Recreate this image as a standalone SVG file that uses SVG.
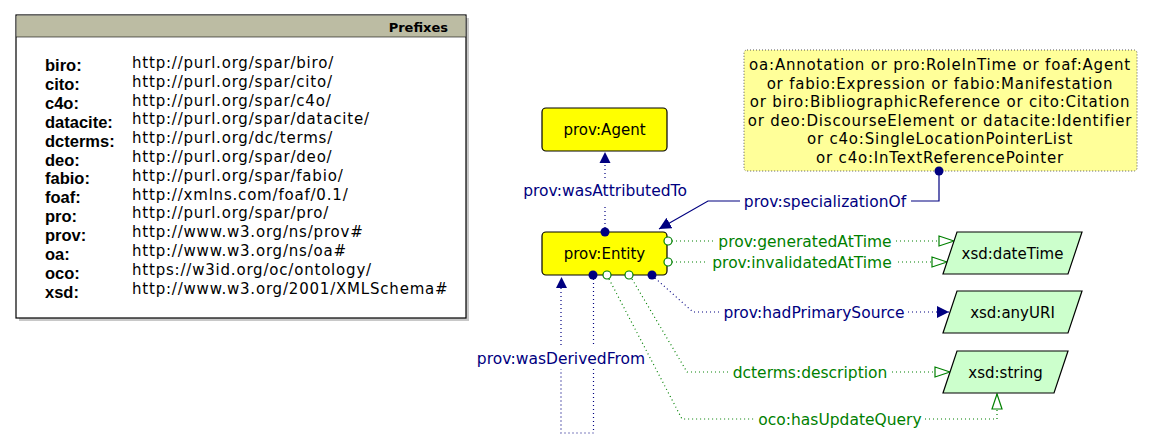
<svg xmlns="http://www.w3.org/2000/svg" width="1151" height="448" viewBox="0 0 1151 448">
<style>
  text { font-family: "DejaVu Sans", "Liberation Sans", sans-serif; }
  .pfx { font-family: "Liberation Sans", "DejaVu Sans", sans-serif; font-size: 16.5px; font-weight: bold; fill: #000; }
  .url { font-size: 15px; letter-spacing: 0.8px; fill: #000; }
  .node { fill: #ffff00; stroke: #000; stroke-width: 1.2; }
  .ntext { font-size: 15px; fill: #000; text-anchor: middle; }
  .dt { fill: #ccffcc; stroke: #000; stroke-width: 1.2; }
  .lblN { font-size: 15.5px; fill: #000080; text-anchor: middle; }
  .lblG { font-size: 15.5px; fill: #008000; text-anchor: middle; }
  .dotN { fill: none; stroke: #000080; stroke-width: 1.2; stroke-dasharray: 1 3; }
  .dotG { fill: none; stroke: #008000; stroke-width: 1.2; stroke-dasharray: 1 3; }
  .solidN { fill: none; stroke: #000080; stroke-width: 1.2; }
  .hc { fill: #fff; stroke: #008000; stroke-width: 1.2; }
  .fc { fill: #000080; }
  .oval { font-size: 15px; letter-spacing: 0.8px; fill: #000; text-anchor: middle; }
</style>
<defs>
  <marker id="arrN" viewBox="0 0 12 12" refX="12" refY="6" markerWidth="12" markerHeight="12" markerUnits="userSpaceOnUse" orient="auto">
    <path d="M0,0 L12,6 L0,12 Z" fill="#000080"/>
  </marker>
  <marker id="arrG" viewBox="0 0 17 12" refX="16" refY="6" markerWidth="17" markerHeight="12" markerUnits="userSpaceOnUse" orient="auto">
    <path d="M1,1 L16,6 L1,11 Z" fill="#fff" stroke="#008000" stroke-width="1.2"/>
  </marker>
</defs>
<rect width="1151" height="448" fill="#fff"/>

<g id="prefixes">
  <rect x="19" y="18" width="450" height="303" fill="#c8c8c8"/>
  <rect x="16" y="15" width="450" height="303" fill="#fff" stroke="#000" stroke-width="1.2"/>
  <rect x="16.6" y="15.6" width="448.8" height="21.4" fill="#bcbca3"/>
  <line x1="16" y1="37" x2="466" y2="37" stroke="#000" stroke-width="0.6"/>
  <text x="448" y="32" text-anchor="end" style="font-size:13px;font-weight:bold">Prefixes</text>
  <text class="pfx" x="45" y="71">biro:</text>
  <text class="pfx" x="45" y="89.9">cito:</text>
  <text class="pfx" x="45" y="108.8">c4o:</text>
  <text class="pfx" x="45" y="127.7">datacite:</text>
  <text class="pfx" x="45" y="146.6">dcterms:</text>
  <text class="pfx" x="45" y="165.5">deo:</text>
  <text class="pfx" x="45" y="184.4">fabio:</text>
  <text class="pfx" x="45" y="203.3">foaf:</text>
  <text class="pfx" x="45" y="222.2">pro:</text>
  <text class="pfx" x="45" y="241.1">prov:</text>
  <text class="pfx" x="45" y="260">oa:</text>
  <text class="pfx" x="45" y="278.9">oco:</text>
  <text class="pfx" x="45" y="297.8">xsd:</text>
  <text class="url" x="132" y="68">http://purl.org/spar/biro/</text>
  <text class="url" x="132" y="86.8">http://purl.org/spar/cito/</text>
  <text class="url" x="132" y="105.6">http://purl.org/spar/c4o/</text>
  <text class="url" x="132" y="124.4">http://purl.org/spar/datacite/</text>
  <text class="url" x="132" y="143.2">http://purl.org/dc/terms/</text>
  <text class="url" x="132" y="162">http://purl.org/spar/deo/</text>
  <text class="url" x="132" y="180.8">http://purl.org/spar/fabio/</text>
  <text class="url" x="132" y="199.6">http://xmlns.com/foaf/0.1/</text>
  <text class="url" x="132" y="218.4">http://purl.org/spar/pro/</text>
  <text class="url" x="132" y="237.2">http://www.w3.org/ns/prov#</text>
  <text class="url" x="132" y="256">http://www.w3.org/ns/oa#</text>
  <text class="url" x="132" y="274.8">https://w3id.org/oc/ontology/</text>
  <text class="url" x="132" y="293.6">http://www.w3.org/2001/XMLSchema#</text>
</g>

<g id="connectors">
  <!-- wasAttributedTo -->
  <line class="dotN" x1="605" y1="228" x2="605" y2="206"/>
  <line class="dotN" x1="605" y1="178" x2="605" y2="163"/>
  <path d="M599.5,163 L605,152 L610.5,163 Z" class="fc"/>
  <text class="lblN" x="605" y="196">prov:wasAttributedTo</text>

  <!-- specializationOf -->
  <polyline class="solidN" points="939,171 939,201 911,201"/>
  <polyline class="solidN" points="740,201 708,201 659,229" marker-end="url(#arrN)"/>
  <text class="lblN" x="825" y="206.5">prov:specializationOf</text>

  <!-- generatedAtTime -->
  <line class="dotG" x1="672" y1="241" x2="714" y2="241"/>
  <line class="dotG" x1="896" y1="241" x2="954" y2="241" marker-end="url(#arrG)"/>
  <text class="lblG" x="805" y="246.5">prov:generatedAtTime</text>

  <!-- invalidatedAtTime -->
  <line class="dotG" x1="672" y1="262" x2="707" y2="262"/>
  <line class="dotG" x1="898" y1="262" x2="947" y2="262" marker-end="url(#arrG)"/>
  <text class="lblG" x="802" y="267.5">prov:invalidatedAtTime</text>

  <!-- hadPrimarySource -->
  <polyline class="dotN" points="655,278 693,312 720,312"/>
  <line class="dotN" x1="908" y1="312" x2="949" y2="312" marker-end="url(#arrN)"/>
  <text class="lblN" x="814" y="317.5">prov:hadPrimarySource</text>

  <!-- description -->
  <polyline class="dotG" points="632,279 687,372 728,372"/>
  <line class="dotG" x1="892" y1="372" x2="950" y2="372" marker-end="url(#arrG)"/>
  <text class="lblG" x="810" y="377.5">dcterms:description</text>

  <!-- hasUpdateQuery -->
  <polyline class="dotG" points="609,279 682,419 755,419"/>
  <polyline class="dotG" points="925,419 997,419 997,394" marker-end="url(#arrG)"/>
  <text class="lblG" x="840" y="424.5">oco:hasUpdateQuery</text>

  <!-- wasDerivedFrom -->
  <line class="dotN" x1="593.5" y1="279" x2="593.5" y2="345"/>
  <polyline class="dotN" points="593.5,369 593.5,433 561,433 561,369"/>
  <line class="dotN" x1="561" y1="345" x2="561" y2="288"/>
  <path d="M556,288 L561.5,277 L567,288 Z" class="fc"/>
  <text class="lblN" x="561" y="363.5">prov:wasDerivedFrom</text>
</g>

<g id="node-agent">
  <rect class="node" x="542" y="108" width="125" height="43" rx="4"/>
  <text class="ntext" x="604.5" y="135">prov:Agent</text>
</g>

<g id="node-entity">
  <rect class="node" x="542" y="232" width="125" height="43" rx="4"/>
  <text class="ntext" x="604.5" y="259">prov:Entity</text>
  <circle class="fc" cx="605" cy="232" r="4.5"/>
  <circle class="hc" cx="668" cy="241" r="4"/>
  <circle class="hc" cx="668" cy="262" r="4"/>
  <circle class="fc" cx="593" cy="275" r="4.5"/>
  <circle class="hc" cx="607" cy="275" r="4"/>
  <circle class="hc" cx="629" cy="275" r="4"/>
  <circle class="fc" cx="652" cy="275" r="4.5"/>
</g>

<g id="node-union">
  <rect x="744" y="50" width="393" height="121" rx="3" fill="#ffff99" stroke="#555" stroke-width="1" stroke-dasharray="1 2"/>
  <text class="oval" x="940" y="70">oa:Annotation or pro:RoleInTime or foaf:Agent</text>
  <text class="oval" x="940" y="88.5">or fabio:Expression or fabio:Manifestation</text>
  <text class="oval" x="940" y="107">or biro:BibliographicReference or cito:Citation</text>
  <text class="oval" x="940" y="125.5">or deo:DiscourseElement or datacite:Identifier</text>
  <text class="oval" x="940" y="144">or c4o:SingleLocationPointerList</text>
  <text class="oval" x="940" y="162.5">or c4o:InTextReferencePointer</text>
  <circle class="fc" cx="939" cy="171" r="4.5"/>
</g>

<g id="node-datetime">
  <polygon class="dt" points="957,232 1082,232 1068,274 943,274"/>
  <text class="ntext" x="1012.5" y="258.5">xsd:dateTime</text>
</g>

<g id="node-anyuri">
  <polygon class="dt" points="957,291 1082,291 1068,333 943,333"/>
  <text class="ntext" x="1012.5" y="317.5">xsd:anyURI</text>
</g>

<g id="node-string">
  <polygon class="dt" points="957,351 1068,351 1054,393 943,393"/>
  <text class="ntext" x="1005.5" y="377.5">xsd:string</text>
</g>
</svg>
